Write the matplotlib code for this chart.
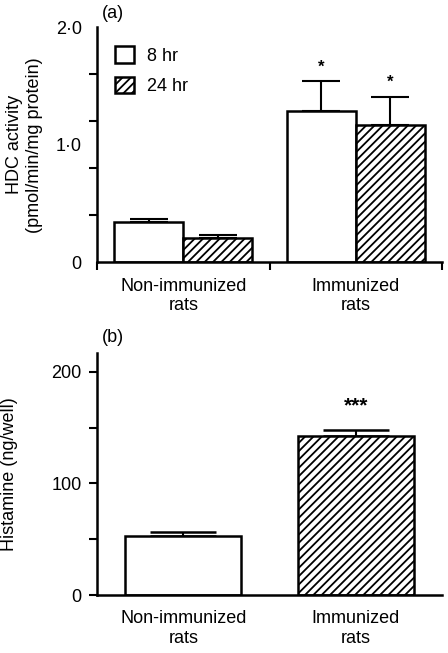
import numpy as np
import matplotlib.pyplot as plt

plt.rcParams['font.family'] = ['Liberation Sans', 'DejaVu Sans']
plt.rcParams['hatch.linewidth'] = 1.3
plt.rcParams['hatch.color'] = 'black'

groups = ['Non-immunized\nrats', 'Immunized\nrats']
hdc_8hr = [0.34, 1.29]
hdc_8hr_err = [0.03, 0.25]
hdc_24hr = [0.21, 1.17]
hdc_24hr_err = [0.025, 0.24]
hdc_8hr_stars = ['', '*']
hdc_24hr_stars = ['', '*']
histamine = [53, 142]
histamine_err = [3, 5.5]
histamine_stars = ['', '***']

fs = 13
lw = 1.8

fig = plt.figure(figsize=(4.48, 6.53), dpi=100)
x = np.arange(len(groups))


def style_axes(ax):
    for s in ['top', 'right']:
        ax.spines[s].set_visible(False)
    for s in ['left', 'bottom']:
        ax.spines[s].set_linewidth(lw)
    ax.tick_params(which='both', direction='out', length=6, width=1.5,
                   labelsize=fs, pad=5)


# (a) HDC activity
ax1 = fig.add_axes([97/448, 1-262.3/653, 345/448, 235/653])
w = 0.4
ax1.bar(x - w/2, hdc_8hr, w, color='white', edgecolor='black', lw=lw,
        label='8 hr', zorder=2)
ax1.bar(x + w/2, hdc_24hr, w, color='white', edgecolor='black', lw=lw,
        hatch='////', label='24 hr', zorder=2)
ax1.errorbar(x - w/2, hdc_8hr, yerr=[np.zeros(2), hdc_8hr_err], fmt='none',
             ecolor='black', elinewidth=1.5, capsize=13.5, capthick=1.5, zorder=1)
ax1.errorbar(x + w/2, hdc_24hr, yerr=[np.zeros(2), hdc_24hr_err], fmt='none',
             ecolor='black', elinewidth=1.5, capsize=13.5, capthick=1.5, zorder=1)
for xi, v, e, s in zip(x - w/2, hdc_8hr, hdc_8hr_err, hdc_8hr_stars):
    ax1.annotate(s, (xi, v + e), xytext=(0, 5), textcoords='offset points',
                 ha='center', va='bottom', fontsize=12, fontweight='bold')
for xi, v, e, s in zip(x + w/2, hdc_24hr, hdc_24hr_err, hdc_24hr_stars):
    ax1.annotate(s, (xi, v + e), xytext=(0, 5), textcoords='offset points',
                 ha='center', va='bottom', fontsize=12, fontweight='bold')

ax1.set_xlim(-0.5, 1.5)
ax1.set_ylim(0, 2.0)
style_axes(ax1)
ax1.set_yticks([0, 1, 2])
ax1.set_yticklabels(['0', '1·0', '2·0'])
ax1.set_yticks(np.arange(0, 2.01, 0.4), minor=True)
ax1.set_xticks(x)
ax1.set_xticklabels(groups)
ax1.set_xticks([-0.5, 0.5, 1.5], minor=True)
for t in ax1.yaxis.get_major_ticks() + ax1.xaxis.get_major_ticks():
    t.tick1line.set_visible(False)
ax1.set_ylabel('HDC activity\n(pmol/min/mg protein)', fontsize=fs)
ax1.yaxis.set_label_coords(-0.157, 0.5)
ax1.legend(loc='upper left', bbox_to_anchor=(0.03, 0.95), frameon=False,
           fontsize=fs, handlelength=1.05, handleheight=1.05,
           handletextpad=0.75, labelspacing=0.65, borderaxespad=0)
fig.text(102/448, 1-13/653, '(a)', fontsize=fs, va='center', ha='left')

# (b) Histamine
ax2 = fig.add_axes([97/448, 1-595/653, 345/448, 242.3/653])
wb = 0.67
ax2.bar(x, histamine, wb, color='white', edgecolor='black', lw=lw,
        hatch=['', '////'], zorder=2)
ax2.errorbar(x, histamine, yerr=[np.zeros(2), histamine_err], fmt='none',
             ecolor='black', elinewidth=1.5, capsize=24, capthick=1.8, zorder=1)
for xi, v, e, s in zip(x, histamine, histamine_err, histamine_stars):
    ax2.annotate(s, (xi, v + e), xytext=(0, 11), textcoords='offset points',
                 ha='center', va='bottom', fontsize=15, fontweight='bold')

ax2.set_xlim(-0.5, 1.5)
ax2.set_ylim(0, 217)
style_axes(ax2)
ax2.set_yticks([0, 100, 200])
ax2.set_yticks([50, 150], minor=True)
ax2.set_xticks(x)
ax2.set_xticklabels(groups)
for t in ax2.xaxis.get_major_ticks():
    t.tick1line.set_visible(False)
ax2.set_ylabel('Histamine (ng/well)', fontsize=fs)
ax2.yaxis.set_label_coords(-0.229, 0.5)
fig.text(102/448, 1-338/653, '(b)', fontsize=fs, va='center', ha='left')

plt.savefig('out.png', dpi=100)
plt.close()
